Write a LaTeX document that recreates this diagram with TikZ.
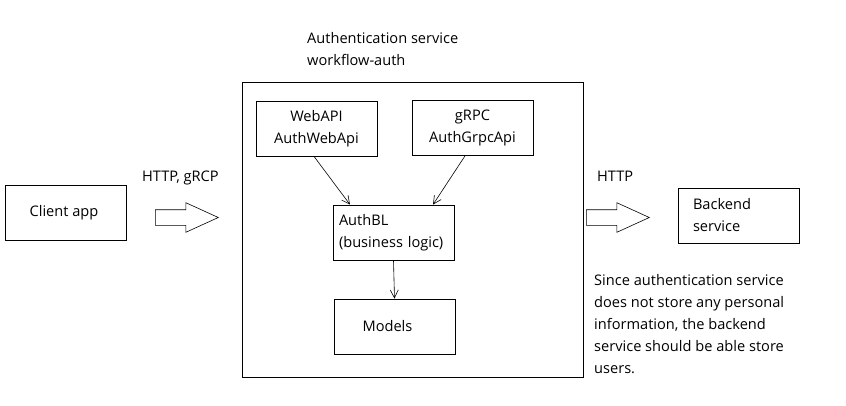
\documentclass[tikz,border=0pt]{standalone}
\usepackage{fontspec}
\setmainfont{Open Sans}
\usetikzlibrary{arrows.meta, shapes.arrows, calc, positioning}
\tikzset{
    box/.style={draw, rectangle, line width=0.8pt, minimum width=121pt, minimum height=55pt, inner sep=0pt, align=center},
    boxLeft/.style={box, text width=109pt, align=left},
    txt/.style={inner sep=0pt, align=left},
    fatArrow/.style={draw, single arrow, anchor=tail, line width=0.6pt, minimum height=63pt, inner xsep=0pt, inner ysep=7.5pt, single arrow head extend=7pt, single arrow tip angle=49},
    link/.style={-{Straight Barb[length=8pt, width=8pt, line width=0.6pt]}, line width=0.6pt},
}

\begin{document}
\begin{tikzpicture}[x=1pt, y=-1pt, font=\fontsize{14.6}{22}\selectfont]
        \useasboundingbox (0,0) rectangle (846,405);

        % left side
        \node[box] (client) at (66, 213) {Client app\kern4pt};
        \node[txt, anchor=base west] (proto) at (142, 181) {HTTP, gRCP};
        \node[fatArrow] (inArrow) at (155, 217.5) {};

        % authentication service
        \node[txt, anchor=base west] (title) at (307, 65) {Authentication service\\workflow-auth};
        \node[draw, line width=0.8pt, minimum width=341pt, minimum height=295pt] (auth) at (412.5, 229.5) {};
        \node[box] (webapi) at (316.5, 128.5) {WebAPI\\AuthWebApi};
        \node[box] (grpc) at (472.5, 128) {gRPC\\AuthGrpcApi};
        \node[boxLeft] (authbl) at (393.5, 232.5) {AuthBL\\(business logic)};
        \node[box] (models) at (394.5, 326.5) {Models\kern14pt};

        \draw[link] ($(webapi.south)+(-2.5,0)$) -- ($(authbl.north)+(-43.5,0)$);
        \draw[link] ($(grpc.south)+(-7.5,0)$) -- ($(authbl.north)+(39.5,0)$);
        \draw[link] (authbl.south) -- (models.north);

        % right side
        \node[txt, anchor=base west] (http) at (597, 181) {HTTP};
        \node[fatArrow] (outArrow) at (586, 217.5) {};
        \node[box, text width=91pt, align=left, inner xsep=15pt] (backend) at (738.5, 215.5) {Backend\\service};
        \node[txt, anchor=base west] (note) at (594, 373) {Since authentication service\\does not store any personal\\information, the backend\\service should be able store\\users.};
    \end{tikzpicture}
\end{document}
